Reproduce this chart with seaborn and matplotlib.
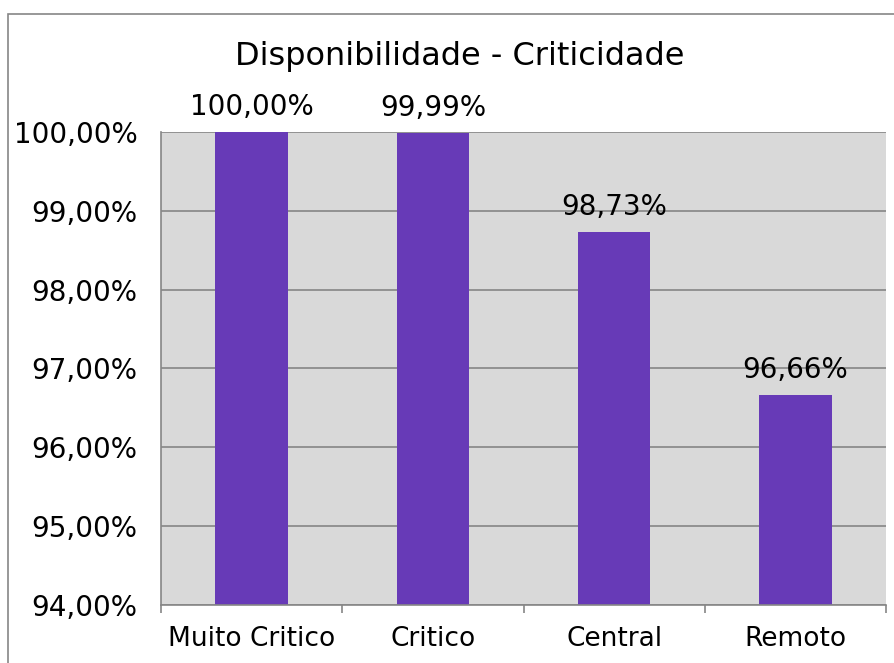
import matplotlib
matplotlib.use("Agg")
import matplotlib.pyplot as plt
import matplotlib.patches as mpatches
from matplotlib.ticker import FixedLocator, FuncFormatter
import pandas as pd
import seaborn as sns

# chart data
categories = ["Muito Critico", "Critico", "Central", "Remoto"]
availability = [100.00, 99.99, 98.73, 96.66]
y_ticks = [94, 95, 96, 97, 98, 99, 100]

sns.set_theme(style="white")
plt.rcParams['font.family'] = ['DejaVu Sans']
plt.rcParams['text.color'] = 'black'

BAR = "#673AB7"
GRID = "#868686"


def pct(v):
    return f"{v:.2f}%".replace(".", ",")


df = pd.DataFrame({"Categoria": categories, "Disponibilidade": availability})

fig = plt.figure(figsize=(8.94, 6.63), dpi=100)
ax = fig.add_axes([0.1801, 0.0875, 0.8110, 0.7134])

sns.barplot(data=df, x="Categoria", y="Disponibilidade", color=BAR,
            saturation=1, width=0.4, linewidth=0, ax=ax)

ax.set_facecolor("#D9D9D9")
ax.set_ylim(94, 100)
ax.set_xlim(-0.5, len(categories) - 0.5)
ax.set_yticks(y_ticks)
ax.yaxis.set_major_formatter(FuncFormatter(lambda v, p: pct(v)))
ax.grid(axis="y", color=GRID, linewidth=1.2)
ax.set_axisbelow(True)
ax.set_xlabel("")
ax.set_ylabel("")

for s in ["top", "right"]:
    ax.spines[s].set_visible(False)
for s in ["left", "bottom"]:
    ax.spines[s].set_color(GRID)
    ax.spines[s].set_linewidth(1.2)

ax.tick_params(axis="y", which="major", direction="out", length=6, width=1.2,
               color=GRID, pad=11, labelsize=20, labelcolor="black")
ax.xaxis.set_minor_locator(FixedLocator([i - 0.5 for i in range(len(categories) + 1)]))
ax.tick_params(axis="x", which="minor", direction="out", length=6, width=1.2,
               color=GRID, bottom=True)
ax.tick_params(axis="x", which="major", length=0, pad=15, labelsize=19,
               labelcolor="black")

ax.bar_label(ax.containers[0], labels=[pct(v) for v in availability],
             padding=8, fontsize=20, color="black")

fig.text(460 / 894, 1 - 57 / 663, "Disponibilidade - Criticidade",
         fontsize=23, color="black", ha="center", va="center")

# outer chart border
fig.patches.append(mpatches.Rectangle((8 / 894, -0.01), 1.0, 1 - 14 / 663 + 0.01,
                                      transform=fig.transFigure, fill=False,
                                      edgecolor=GRID, linewidth=1.2))

plt.savefig("out.png", dpi=100)
plt.close()
